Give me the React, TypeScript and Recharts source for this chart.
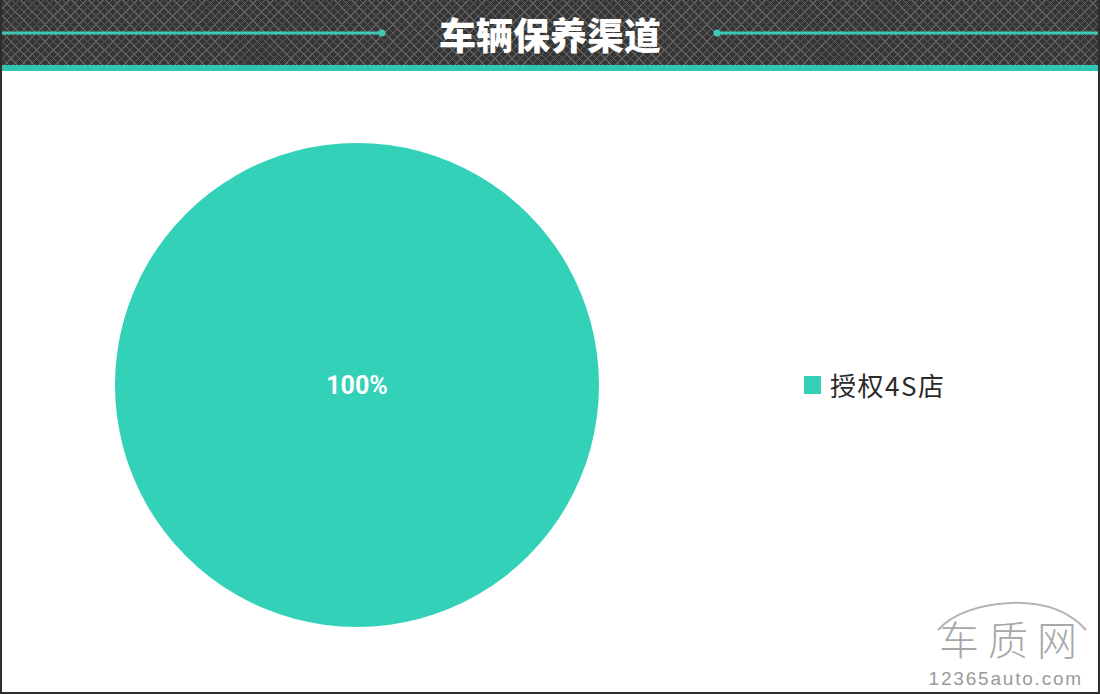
import { PieChart, Pie, Cell, Legend } from "recharts";

const channels = ["授权4S店"];
const shares = [100];
const colors = ["#33d1b8"];

const data = channels.map((name, i) => ({ name, value: shares[i] }));

const renderCenterLabel = (props: any) => {
   const { cx, cy, percent } = props;
   return (
      <text
         x={cx}
         y={cy}
         fill="#ffffff"
         textAnchor="middle"
         dominantBaseline="central"
         fontSize={25}
         fontWeight="bold"
         fontFamily="Roboto, 'Noto Sans', sans-serif"
      >
         {`${Math.round(percent * 100)}%`}
      </text>
   );
};

const renderLegend = (props: any) => {
   const { payload } = props;
   return (
      <div>
         {payload.map((entry: any) => (
            <div key={entry.value} style={{ display: "flex", alignItems: "center" }}>
               <span
                  style={{
                     width: 17,
                     height: 18,
                     background: entry.color,
                     display: "inline-block",
                     marginRight: 9,
                  }}
               />
               <span
                  style={{
                     fontSize: 26,
                     letterSpacing: 1.5,
                     color: "#2b2b2b",
                     fontFamily: "'Noto Sans CJK SC', sans-serif",
                  }}
               >
                  {entry.value}
               </span>
            </div>
         ))}
      </div>
   );
};

export default function App() {
   return (
      <div
         style={{
            position: "fixed",
            top: 0,
            left: 0,
            width: 1100,
            height: 694,
            background: "#ffffff",
            overflow: "hidden",
         }}
      >
         {/* Header */}
         <div
            style={{
               position: "absolute",
               top: 0,
               left: 0,
               width: 1100,
               height: 65,
               background:
                  "repeating-linear-gradient(45deg, #606060 0 1px, transparent 1px 6px), repeating-linear-gradient(-45deg, #606060 0 1px, transparent 1px 6px), #363636",
            }}
         >
            <svg width={1100} height={65} style={{ position: "absolute", top: 0, left: 0 }}>
               <line x1={0} y1={33} x2={381} y2={33} stroke="#3ec9b5" strokeWidth={3} />
               <circle cx={382} cy={33} r={3.5} fill="#3ec9b5" />
               <line x1={718} y1={33} x2={1100} y2={33} stroke="#3ec9b5" strokeWidth={3} />
               <circle cx={717} cy={33} r={3.5} fill="#3ec9b5" />
               <text
                  x={550}
                  y={34}
                  fill="#ffffff"
                  textAnchor="middle"
                  dominantBaseline="central"
                  fontSize={37}
                  fontWeight={900}
                  fontFamily="'Noto Sans CJK SC', sans-serif"
               >
                  车辆保养渠道
               </text>
            </svg>
         </div>
         <div
            style={{
               position: "absolute",
               top: 65,
               left: 0,
               width: 1100,
               height: 6,
               background: "#2fc6b1",
            }}
         />

         {/* Chart */}
         <div style={{ position: "absolute", top: 71, left: 0 }}>
            <PieChart width={1100} height={621}>
               <Pie
                  data={data}
                  dataKey="value"
                  nameKey="name"
                  cx={352}
                  cy={309}
                  outerRadius={242}
                  startAngle={90}
                  endAngle={-270}
                  stroke="none"
                  label={renderCenterLabel}
                  labelLine={false}
                  isAnimationActive={false}
               >
                  {data.map((d, i) => (
                     <Cell key={d.name} fill={colors[i]} />
                  ))}
               </Pie>
               <Legend
                  content={renderLegend}
                  wrapperStyle={{ left: 804, top: 295, width: 220 }}
               />
            </PieChart>
         </div>

         {/* Watermark */}
         <svg
            width={220}
            height={100}
            style={{ position: "absolute", left: 880, top: 594 }}
         >
            <path
               d="M 58 36 Q 80 12 130 9 Q 180 7 206 36"
               fill="none"
               stroke="#b5b5b5"
               strokeWidth={2}
            />
            <text
               x={206}
               y={61}
               textAnchor="end"
               fill="#a8a8a8"
               fontSize={40}
               letterSpacing={9}
               fontFamily="'Noto Sans CJK SC', sans-serif"
               fontWeight={300}
            >
               车质网
            </text>
            <text
               x={203}
               y={91}
               textAnchor="end"
               fill="#9a9a9a"
               fontSize={19}
               letterSpacing={1.8}
               fontFamily="'Liberation Sans', sans-serif"
            >
               12365auto.com
            </text>
         </svg>

         {/* Frame */}
         <div
            style={{
               position: "absolute",
               top: 0,
               left: 0,
               width: 1100,
               height: 694,
               boxSizing: "border-box",
               border: "2px solid #2e2e2e",
               borderTop: "none",
               pointerEvents: "none",
            }}
         />
      </div>
   );
}
